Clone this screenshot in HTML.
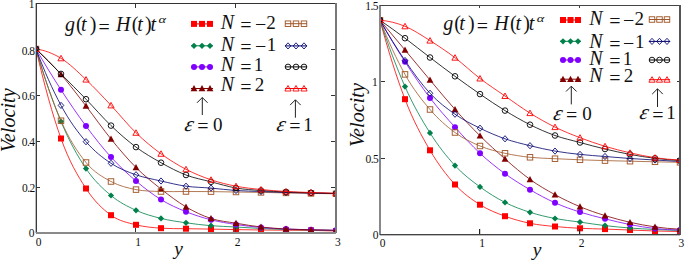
<!DOCTYPE html>
<html><head><meta charset="utf-8"><style>
html,body{margin:0;padding:0;background:#fff;width:685px;height:260px;overflow:hidden}
svg{display:block}
text{font-family:"Liberation Serif",serif;fill:#111}
</style></head><body>
<svg width="685" height="260" viewBox="0 0 685 260">
<defs><clipPath id="cl"><rect x="36" y="3" width="300" height="230"/></clipPath><clipPath id="cr"><rect x="380" y="5" width="300" height="229"/></clipPath></defs>
<g clip-path="url(#cl)"><path d="M36.00,49.00 C44.33,85.42 52.67,115.25 61.00,138.50 C69.33,161.75 77.67,175.72 86.00,188.50 C94.33,201.28 102.67,209.15 111.00,215.20 C119.33,221.25 127.67,222.63 136.00,224.80 C144.33,226.97 152.67,227.55 161.00,228.20 C169.33,228.85 177.67,228.55 186.00,228.70 C194.33,228.85 202.67,228.95 211.00,229.10 C219.33,229.25 227.67,229.45 236.00,229.60 C244.33,229.75 252.67,229.90 261.00,230.00 C269.33,230.10 277.67,230.13 286.00,230.20 C294.33,230.27 302.67,230.27 311.00,230.40 C319.33,230.53 327.67,230.73 336.00,231.00" fill="none" stroke="#ff0000" stroke-width="0.8"/><rect x="33.00" y="46.00" width="6" height="6" fill="#ff0000"/><rect x="58.00" y="135.50" width="6" height="6" fill="#ff0000"/><rect x="83.00" y="185.50" width="6" height="6" fill="#ff0000"/><rect x="108.00" y="212.20" width="6" height="6" fill="#ff0000"/><rect x="133.00" y="221.80" width="6" height="6" fill="#ff0000"/><rect x="158.00" y="225.20" width="6" height="6" fill="#ff0000"/><rect x="183.00" y="225.70" width="6" height="6" fill="#ff0000"/><rect x="208.00" y="226.10" width="6" height="6" fill="#ff0000"/><rect x="233.00" y="226.60" width="6" height="6" fill="#ff0000"/><rect x="258.00" y="227.00" width="6" height="6" fill="#ff0000"/><rect x="283.00" y="227.20" width="6" height="6" fill="#ff0000"/><rect x="308.00" y="227.40" width="6" height="6" fill="#ff0000"/><rect x="333.00" y="228.00" width="6" height="6" fill="#ff0000"/><path d="M36.00,49.00 C44.33,77.40 52.67,101.57 61.00,121.50 C69.33,141.43 77.67,156.27 86.00,168.60 C94.33,180.93 102.67,188.55 111.00,195.50 C119.33,202.45 127.67,206.48 136.00,210.30 C144.33,214.12 152.67,216.32 161.00,218.40 C169.33,220.48 177.67,221.58 186.00,222.80 C194.33,224.02 202.67,225.00 211.00,225.70 C219.33,226.40 227.67,226.53 236.00,227.00 C244.33,227.47 252.67,228.08 261.00,228.50 C269.33,228.92 277.67,229.25 286.00,229.50 C294.33,229.75 302.67,229.83 311.00,230.00 C319.33,230.17 327.67,230.33 336.00,230.50" fill="none" stroke="#00804a" stroke-width="0.8"/><polygon points="36.00,45.90 39.10,49.00 36.00,52.10 32.90,49.00" fill="#00804a"/><polygon points="61.00,118.40 64.10,121.50 61.00,124.60 57.90,121.50" fill="#00804a"/><polygon points="86.00,165.50 89.10,168.60 86.00,171.70 82.90,168.60" fill="#00804a"/><polygon points="111.00,192.40 114.10,195.50 111.00,198.60 107.90,195.50" fill="#00804a"/><polygon points="136.00,207.20 139.10,210.30 136.00,213.40 132.90,210.30" fill="#00804a"/><polygon points="161.00,215.30 164.10,218.40 161.00,221.50 157.90,218.40" fill="#00804a"/><polygon points="186.00,219.70 189.10,222.80 186.00,225.90 182.90,222.80" fill="#00804a"/><polygon points="211.00,222.60 214.10,225.70 211.00,228.80 207.90,225.70" fill="#00804a"/><polygon points="236.00,223.90 239.10,227.00 236.00,230.10 232.90,227.00" fill="#00804a"/><polygon points="261.00,225.40 264.10,228.50 261.00,231.60 257.90,228.50" fill="#00804a"/><polygon points="286.00,226.40 289.10,229.50 286.00,232.60 282.90,229.50" fill="#00804a"/><polygon points="311.00,226.90 314.10,230.00 311.00,233.10 307.90,230.00" fill="#00804a"/><polygon points="336.00,227.40 339.10,230.50 336.00,233.60 332.90,230.50" fill="#00804a"/><path d="M36.00,49.00 C44.33,63.35 52.67,76.95 61.00,89.80 C69.33,102.65 77.67,114.88 86.00,126.10 C94.33,137.32 102.67,147.95 111.00,157.10 C119.33,166.25 127.67,173.92 136.00,181.00 C144.33,188.08 152.67,194.48 161.00,199.60 C169.33,204.72 177.67,208.33 186.00,211.70 C194.33,215.07 202.67,217.67 211.00,219.80 C219.33,221.93 227.67,223.22 236.00,224.50 C244.33,225.78 252.67,226.75 261.00,227.50 C269.33,228.25 277.67,228.62 286.00,229.00 C294.33,229.38 302.67,229.58 311.00,229.80 C319.33,230.02 327.67,230.18 336.00,230.30" fill="none" stroke="#8000ff" stroke-width="0.8"/><circle cx="36.00" cy="49.00" r="3.0" fill="#8000ff"/><circle cx="61.00" cy="89.80" r="3.0" fill="#8000ff"/><circle cx="86.00" cy="126.10" r="3.0" fill="#8000ff"/><circle cx="111.00" cy="157.10" r="3.0" fill="#8000ff"/><circle cx="136.00" cy="181.00" r="3.0" fill="#8000ff"/><circle cx="161.00" cy="199.60" r="3.0" fill="#8000ff"/><circle cx="186.00" cy="211.70" r="3.0" fill="#8000ff"/><circle cx="211.00" cy="219.80" r="3.0" fill="#8000ff"/><circle cx="236.00" cy="224.50" r="3.0" fill="#8000ff"/><circle cx="261.00" cy="227.50" r="3.0" fill="#8000ff"/><circle cx="286.00" cy="229.00" r="3.0" fill="#8000ff"/><circle cx="311.00" cy="229.80" r="3.0" fill="#8000ff"/><circle cx="336.00" cy="230.30" r="3.0" fill="#8000ff"/><path d="M36.00,49.00 C44.33,56.50 52.67,65.00 61.00,74.50 C69.33,84.00 77.67,95.25 86.00,106.00 C94.33,116.75 102.67,128.75 111.00,139.00 C119.33,149.25 127.67,159.17 136.00,167.50 C144.33,175.83 152.67,182.43 161.00,189.00 C169.33,195.57 177.67,201.98 186.00,206.90 C194.33,211.82 202.67,215.78 211.00,218.50 C219.33,221.22 227.67,221.78 236.00,223.20 C244.33,224.62 252.67,226.03 261.00,227.00 C269.33,227.97 277.67,228.53 286.00,229.00 C294.33,229.47 302.67,229.58 311.00,229.80 C319.33,230.02 327.67,230.18 336.00,230.30" fill="none" stroke="#800000" stroke-width="0.8"/><polygon points="36.00,45.60 39.40,51.80 32.60,51.80" fill="#800000"/><polygon points="61.00,71.10 64.40,77.30 57.60,77.30" fill="#800000"/><polygon points="86.00,102.60 89.40,108.80 82.60,108.80" fill="#800000"/><polygon points="111.00,135.60 114.40,141.80 107.60,141.80" fill="#800000"/><polygon points="136.00,164.10 139.40,170.30 132.60,170.30" fill="#800000"/><polygon points="161.00,185.60 164.40,191.80 157.60,191.80" fill="#800000"/><polygon points="186.00,203.50 189.40,209.70 182.60,209.70" fill="#800000"/><polygon points="211.00,215.10 214.40,221.30 207.60,221.30" fill="#800000"/><polygon points="236.00,219.80 239.40,226.00 232.60,226.00" fill="#800000"/><polygon points="261.00,223.60 264.40,229.80 257.60,229.80" fill="#800000"/><polygon points="286.00,225.60 289.40,231.80 282.60,231.80" fill="#800000"/><polygon points="311.00,226.40 314.40,232.60 307.60,232.60" fill="#800000"/><polygon points="336.00,226.90 339.40,233.10 332.60,233.10" fill="#800000"/><path d="M36.00,49.00 C44.33,77.88 52.67,101.78 61.00,120.70 C69.33,139.62 77.67,152.37 86.00,162.50 C94.33,172.63 102.67,176.98 111.00,181.50 C119.33,186.02 127.67,187.93 136.00,189.60 C144.33,191.27 152.67,191.18 161.00,191.50 C169.33,191.82 177.67,191.48 186.00,191.50 C194.33,191.52 202.67,191.52 211.00,191.60 C219.33,191.68 227.67,191.87 236.00,192.00 C244.33,192.13 252.67,192.25 261.00,192.40 C269.33,192.55 277.67,192.73 286.00,192.90 C294.33,193.07 302.67,193.25 311.00,193.40 C319.33,193.55 327.67,193.68 336.00,193.80" fill="none" stroke="#a0582a" stroke-width="0.8"/><rect x="33.25" y="46.25" width="5.5" height="5.5" fill="none" stroke="#a0582a" stroke-width="0.95"/><rect x="58.25" y="117.95" width="5.5" height="5.5" fill="none" stroke="#a0582a" stroke-width="0.95"/><rect x="83.25" y="159.75" width="5.5" height="5.5" fill="none" stroke="#a0582a" stroke-width="0.95"/><rect x="108.25" y="178.75" width="5.5" height="5.5" fill="none" stroke="#a0582a" stroke-width="0.95"/><rect x="133.25" y="186.85" width="5.5" height="5.5" fill="none" stroke="#a0582a" stroke-width="0.95"/><rect x="158.25" y="188.75" width="5.5" height="5.5" fill="none" stroke="#a0582a" stroke-width="0.95"/><rect x="183.25" y="188.75" width="5.5" height="5.5" fill="none" stroke="#a0582a" stroke-width="0.95"/><rect x="208.25" y="188.85" width="5.5" height="5.5" fill="none" stroke="#a0582a" stroke-width="0.95"/><rect x="233.25" y="189.25" width="5.5" height="5.5" fill="none" stroke="#a0582a" stroke-width="0.95"/><rect x="258.25" y="189.65" width="5.5" height="5.5" fill="none" stroke="#a0582a" stroke-width="0.95"/><rect x="283.25" y="190.15" width="5.5" height="5.5" fill="none" stroke="#a0582a" stroke-width="0.95"/><rect x="308.25" y="190.65" width="5.5" height="5.5" fill="none" stroke="#a0582a" stroke-width="0.95"/><rect x="333.25" y="191.05" width="5.5" height="5.5" fill="none" stroke="#a0582a" stroke-width="0.95"/><path d="M36.00,49.00 C44.33,71.15 52.67,89.95 61.00,105.40 C69.33,120.85 77.67,132.05 86.00,141.70 C94.33,151.35 102.67,157.78 111.00,163.30 C119.33,168.82 127.67,171.85 136.00,174.80 C144.33,177.75 152.67,179.10 161.00,181.00 C169.33,182.90 177.67,185.02 186.00,186.20 C194.33,187.38 202.67,187.38 211.00,188.10 C219.33,188.82 227.67,189.93 236.00,190.50 C244.33,191.07 252.67,191.17 261.00,191.50 C269.33,191.83 277.67,192.25 286.00,192.50 C294.33,192.75 302.67,192.82 311.00,193.00 C319.33,193.18 327.67,193.38 336.00,193.60" fill="none" stroke="#000070" stroke-width="0.8"/><polygon points="36.00,45.90 38.80,49.00 36.00,52.10 33.20,49.00" fill="none" stroke="#000070" stroke-width="0.85"/><polygon points="61.00,102.30 63.80,105.40 61.00,108.50 58.20,105.40" fill="none" stroke="#000070" stroke-width="0.85"/><polygon points="86.00,138.60 88.80,141.70 86.00,144.80 83.20,141.70" fill="none" stroke="#000070" stroke-width="0.85"/><polygon points="111.00,160.20 113.80,163.30 111.00,166.40 108.20,163.30" fill="none" stroke="#000070" stroke-width="0.85"/><polygon points="136.00,171.70 138.80,174.80 136.00,177.90 133.20,174.80" fill="none" stroke="#000070" stroke-width="0.85"/><polygon points="161.00,177.90 163.80,181.00 161.00,184.10 158.20,181.00" fill="none" stroke="#000070" stroke-width="0.85"/><polygon points="186.00,183.10 188.80,186.20 186.00,189.30 183.20,186.20" fill="none" stroke="#000070" stroke-width="0.85"/><polygon points="211.00,185.00 213.80,188.10 211.00,191.20 208.20,188.10" fill="none" stroke="#000070" stroke-width="0.85"/><polygon points="236.00,187.40 238.80,190.50 236.00,193.60 233.20,190.50" fill="none" stroke="#000070" stroke-width="0.85"/><polygon points="261.00,188.40 263.80,191.50 261.00,194.60 258.20,191.50" fill="none" stroke="#000070" stroke-width="0.85"/><polygon points="286.00,189.40 288.80,192.50 286.00,195.60 283.20,192.50" fill="none" stroke="#000070" stroke-width="0.85"/><polygon points="311.00,189.90 313.80,193.00 311.00,196.10 308.20,193.00" fill="none" stroke="#000070" stroke-width="0.85"/><polygon points="336.00,190.50 338.80,193.60 336.00,196.70 333.20,193.60" fill="none" stroke="#000070" stroke-width="0.85"/><path d="M36.00,49.00 C44.33,57.23 52.67,65.53 61.00,73.90 C69.33,82.27 77.67,90.58 86.00,99.20 C94.33,107.82 102.67,117.62 111.00,125.60 C119.33,133.58 127.67,140.92 136.00,147.10 C144.33,153.28 152.67,158.05 161.00,162.70 C169.33,167.35 177.67,171.82 186.00,175.00 C194.33,178.18 202.67,179.63 211.00,181.80 C219.33,183.97 227.67,186.55 236.00,188.00 C244.33,189.45 252.67,189.83 261.00,190.50 C269.33,191.17 277.67,191.62 286.00,192.00 C294.33,192.38 302.67,192.55 311.00,192.80 C319.33,193.05 327.67,193.28 336.00,193.50" fill="none" stroke="#000000" stroke-width="0.8"/><circle cx="36.00" cy="49.00" r="2.8" fill="none" stroke="#000000" stroke-width="0.9"/><circle cx="61.00" cy="73.90" r="2.8" fill="none" stroke="#000000" stroke-width="0.9"/><circle cx="86.00" cy="99.20" r="2.8" fill="none" stroke="#000000" stroke-width="0.9"/><circle cx="111.00" cy="125.60" r="2.8" fill="none" stroke="#000000" stroke-width="0.9"/><circle cx="136.00" cy="147.10" r="2.8" fill="none" stroke="#000000" stroke-width="0.9"/><circle cx="161.00" cy="162.70" r="2.8" fill="none" stroke="#000000" stroke-width="0.9"/><circle cx="186.00" cy="175.00" r="2.8" fill="none" stroke="#000000" stroke-width="0.9"/><circle cx="211.00" cy="181.80" r="2.8" fill="none" stroke="#000000" stroke-width="0.9"/><circle cx="236.00" cy="188.00" r="2.8" fill="none" stroke="#000000" stroke-width="0.9"/><circle cx="261.00" cy="190.50" r="2.8" fill="none" stroke="#000000" stroke-width="0.9"/><circle cx="286.00" cy="192.00" r="2.8" fill="none" stroke="#000000" stroke-width="0.9"/><circle cx="311.00" cy="192.80" r="2.8" fill="none" stroke="#000000" stroke-width="0.9"/><circle cx="336.00" cy="193.50" r="2.8" fill="none" stroke="#000000" stroke-width="0.9"/><path d="M36.00,49.00 C44.33,50.10 52.67,53.20 61.00,58.30 C69.33,63.40 77.67,71.75 86.00,79.60 C94.33,87.45 102.67,96.53 111.00,105.40 C119.33,114.27 127.67,124.73 136.00,132.80 C144.33,140.87 152.67,147.72 161.00,153.80 C169.33,159.88 177.67,164.97 186.00,169.30 C194.33,173.63 202.67,176.98 211.00,179.80 C219.33,182.62 227.67,184.58 236.00,186.20 C244.33,187.82 252.67,188.62 261.00,189.50 C269.33,190.38 277.67,191.00 286.00,191.50 C294.33,192.00 302.67,192.22 311.00,192.50 C319.33,192.78 327.67,193.02 336.00,193.20" fill="none" stroke="#ff0000" stroke-width="0.8"/><polygon points="36.00,46.00 39.10,51.50 32.90,51.50" fill="none" stroke="#ff0000" stroke-width="0.9"/><polygon points="61.00,55.30 64.10,60.80 57.90,60.80" fill="none" stroke="#ff0000" stroke-width="0.9"/><polygon points="86.00,76.60 89.10,82.10 82.90,82.10" fill="none" stroke="#ff0000" stroke-width="0.9"/><polygon points="111.00,102.40 114.10,107.90 107.90,107.90" fill="none" stroke="#ff0000" stroke-width="0.9"/><polygon points="136.00,129.80 139.10,135.30 132.90,135.30" fill="none" stroke="#ff0000" stroke-width="0.9"/><polygon points="161.00,150.80 164.10,156.30 157.90,156.30" fill="none" stroke="#ff0000" stroke-width="0.9"/><polygon points="186.00,166.30 189.10,171.80 182.90,171.80" fill="none" stroke="#ff0000" stroke-width="0.9"/><polygon points="211.00,176.80 214.10,182.30 207.90,182.30" fill="none" stroke="#ff0000" stroke-width="0.9"/><polygon points="236.00,183.20 239.10,188.70 232.90,188.70" fill="none" stroke="#ff0000" stroke-width="0.9"/><polygon points="261.00,186.50 264.10,192.00 257.90,192.00" fill="none" stroke="#ff0000" stroke-width="0.9"/><polygon points="286.00,188.50 289.10,194.00 282.90,194.00" fill="none" stroke="#ff0000" stroke-width="0.9"/><polygon points="311.00,189.50 314.10,195.00 307.90,195.00" fill="none" stroke="#ff0000" stroke-width="0.9"/><polygon points="336.00,190.20 339.10,195.70 332.90,195.70" fill="none" stroke="#ff0000" stroke-width="0.9"/></g>
<rect x="35" y="3" width="1" height="230" fill="#bbb"/><rect x="36" y="3" width="1" height="230" fill="#3a3a3a"/>
<rect x="36" y="3" width="300" height="1" fill="#333"/>
<rect x="335" y="3" width="2" height="230" fill="#777"/>
<rect x="36" y="232" width="300" height="2" fill="#8a8a8a"/>
<rect x="37" y="187" width="3" height="1" fill="#333"/>
<rect x="331" y="187" width="4" height="1" fill="#333"/>
<rect x="37" y="141" width="3" height="1" fill="#333"/>
<rect x="331" y="141" width="4" height="1" fill="#333"/>
<rect x="37" y="95" width="3" height="1" fill="#333"/>
<rect x="331" y="95" width="4" height="1" fill="#333"/>
<rect x="37" y="49" width="3" height="1" fill="#333"/>
<rect x="331" y="49" width="4" height="1" fill="#333"/>
<rect x="135" y="228" width="1" height="4" fill="#333"/>
<rect x="135" y="4" width="1" height="4" fill="#333"/>
<rect x="235" y="228" width="1" height="4" fill="#333"/>
<rect x="235" y="4" width="1" height="4" fill="#333"/>
<text x="28.64" y="7.80" style="font-size:11.5px;letter-spacing:-0.6px">1</text>
<text x="21.76" y="55.00" style="font-size:11.5px;letter-spacing:-0.6px">0.8</text>
<text x="21.77" y="99.80" style="font-size:11.5px;letter-spacing:-0.6px">0.6</text>
<text x="21.80" y="146.30" style="font-size:11.5px;letter-spacing:-0.6px">0.4</text>
<text x="22.06" y="192.00" style="font-size:11.5px;letter-spacing:-0.6px">0.2</text>
<text x="28.69" y="237.00" style="font-size:11.5px;letter-spacing:-0.6px">0</text>
<text x="35.86" y="245.50" style="font-size:11.5px;">0</text>
<text x="135.19" y="245.50" style="font-size:11.5px;">1</text>
<text x="234.79" y="245.50" style="font-size:11.5px;">2</text>
<text x="334.95" y="245.50" style="font-size:11.5px;">3</text>
<text x="174.23" y="254.50" style="font-size:19.5px;font-style:italic;">y</text>
<text transform="translate(14.63,152.22) rotate(-90)" style="font-size:20.2px;font-style:italic">Velocity</text>
<text x="64.99" y="31.00" style="font-size:20px;font-style:italic;">g</text><text x="76.12" y="31.00" style="font-size:20px;">(</text><text x="81.12" y="31.00" style="font-size:20px;font-style:italic;">t</text><text x="89.86" y="31.00" style="font-size:20px;">)</text><text x="98.50" y="33.60" style="font-size:20px;">=</text><text x="116.11" y="31.00" style="font-size:20px;font-style:italic;">H</text><text x="131.72" y="31.00" style="font-size:20px;">(</text><text x="137.32" y="31.00" style="font-size:20px;font-style:italic;">t</text><text x="144.96" y="31.00" style="font-size:20px;">)</text><text x="150.62" y="31.00" style="font-size:20px;font-style:italic;">t</text><text transform="translate(158.60,23.40) scale(1.3,0.9)" style="font-size:11px;font-style:italic">α</text>
<line x1="191.0" y1="23.90" x2="213.0" y2="23.90" stroke="#ff0000" stroke-width="1"/><rect x="191.00" y="20.90" width="6" height="6" fill="#ff0000"/><rect x="199.00" y="20.90" width="6" height="6" fill="#ff0000"/><rect x="207.00" y="20.90" width="6" height="6" fill="#ff0000"/><line x1="285.0" y1="23.70" x2="307.0" y2="23.70" stroke="#a0582a" stroke-width="1"/><rect x="285.25" y="20.95" width="5.5" height="5.5" fill="none" stroke="#a0582a" stroke-width="0.95"/><rect x="293.25" y="20.95" width="5.5" height="5.5" fill="none" stroke="#a0582a" stroke-width="0.95"/><rect x="301.25" y="20.95" width="5.5" height="5.5" fill="none" stroke="#a0582a" stroke-width="0.95"/><line x1="191.0" y1="45.80" x2="213.0" y2="45.80" stroke="#00804a" stroke-width="1"/><polygon points="194.00,42.70 197.10,45.80 194.00,48.90 190.90,45.80" fill="#00804a"/><polygon points="202.00,42.70 205.10,45.80 202.00,48.90 198.90,45.80" fill="#00804a"/><polygon points="210.00,42.70 213.10,45.80 210.00,48.90 206.90,45.80" fill="#00804a"/><line x1="285.0" y1="45.90" x2="307.0" y2="45.90" stroke="#000070" stroke-width="1"/><polygon points="288.00,42.80 290.80,45.90 288.00,49.00 285.20,45.90" fill="none" stroke="#000070" stroke-width="0.85"/><polygon points="296.00,42.80 298.80,45.90 296.00,49.00 293.20,45.90" fill="none" stroke="#000070" stroke-width="0.85"/><polygon points="304.00,42.80 306.80,45.90 304.00,49.00 301.20,45.90" fill="none" stroke="#000070" stroke-width="0.85"/><line x1="191.0" y1="66.90" x2="213.0" y2="66.90" stroke="#8000ff" stroke-width="1"/><circle cx="194.00" cy="66.90" r="3.0" fill="#8000ff"/><circle cx="202.00" cy="66.90" r="3.0" fill="#8000ff"/><circle cx="210.00" cy="66.90" r="3.0" fill="#8000ff"/><line x1="285.0" y1="66.90" x2="307.0" y2="66.90" stroke="#000000" stroke-width="1"/><circle cx="288.00" cy="66.90" r="2.8" fill="none" stroke="#000000" stroke-width="0.9"/><circle cx="296.00" cy="66.90" r="2.8" fill="none" stroke="#000000" stroke-width="0.9"/><circle cx="304.00" cy="66.90" r="2.8" fill="none" stroke="#000000" stroke-width="0.9"/><line x1="191.0" y1="88.50" x2="213.0" y2="88.50" stroke="#800000" stroke-width="1"/><polygon points="194.00,85.10 197.40,91.30 190.60,91.30" fill="#800000"/><polygon points="202.00,85.10 205.40,91.30 198.60,91.30" fill="#800000"/><polygon points="210.00,85.10 213.40,91.30 206.60,91.30" fill="#800000"/><line x1="285.0" y1="88.50" x2="307.0" y2="88.50" stroke="#ff0000" stroke-width="1"/><polygon points="288.00,85.50 291.10,91.00 284.90,91.00" fill="none" stroke="#ff0000" stroke-width="0.9"/><polygon points="296.00,85.50 299.10,91.00 292.90,91.00" fill="none" stroke="#ff0000" stroke-width="0.9"/><polygon points="304.00,85.50 307.10,91.00 300.90,91.00" fill="none" stroke="#ff0000" stroke-width="0.9"/>
<text x="220.65" y="28.60" style="font-size:20px;font-style:italic;">N</text><text x="240.20" y="31.60" style="font-size:20px;">=</text><text x="254.90" y="30.70" style="font-size:20px;">−</text><text x="266.17" y="28.60" style="font-size:19px;">2</text><text x="220.65" y="50.60" style="font-size:20px;font-style:italic;">N</text><text x="240.20" y="53.60" style="font-size:20px;">=</text><text x="254.90" y="52.70" style="font-size:20px;">−</text><text x="266.63" y="50.60" style="font-size:19px;">1</text><text x="220.65" y="70.60" style="font-size:20px;font-style:italic;">N</text><text x="240.20" y="73.60" style="font-size:20px;">=</text><text x="253.83" y="70.60" style="font-size:19px;">1</text><text x="220.65" y="91.10" style="font-size:20px;font-style:italic;">N</text><text x="240.20" y="94.10" style="font-size:20px;">=</text><text x="254.67" y="91.10" style="font-size:19px;">2</text>
<line x1="202.30" y1="97.6" x2="202.30" y2="115.0" stroke="#222" stroke-width="1"/><polyline points="197.00,102.8 202.30,97.5 207.60,102.8" fill="none" stroke="#222" stroke-width="1"/>
<line x1="295.40" y1="99.9" x2="295.40" y2="117.7" stroke="#222" stroke-width="1"/><polyline points="290.10,105.1 295.40,99.8 300.70,105.1" fill="none" stroke="#222" stroke-width="1"/>
<text transform="translate(183.70,130.80) skewX(-14)" style="font-size:21px;font-style:italic">ε</text><text x="197.20" y="133.40" style="font-size:20px;">=</text><text x="213.08" y="130.80" style="font-size:19px;">0</text>
<text transform="translate(275.70,130.80) skewX(-14)" style="font-size:21px;font-style:italic">ε</text><text x="289.20" y="133.40" style="font-size:20px;">=</text><text x="303.33" y="130.80" style="font-size:19px;">1</text>
<g clip-path="url(#cr)"><path d="M380.00,20.20 C388.33,51.18 396.67,77.52 405.00,99.20 C413.33,120.88 421.67,136.08 430.00,150.30 C438.33,164.52 446.67,175.43 455.00,184.50 C463.33,193.57 471.67,199.42 480.00,204.70 C488.33,209.98 496.67,213.10 505.00,216.20 C513.33,219.30 521.67,221.58 530.00,223.30 C538.33,225.02 546.67,225.67 555.00,226.50 C563.33,227.33 571.67,227.87 580.00,228.30 C588.33,228.73 596.67,228.82 605.00,229.10 C613.33,229.38 621.67,229.68 630.00,230.00 C638.33,230.32 646.67,230.75 655.00,231.00 C663.33,231.25 671.67,231.42 680.00,231.50" fill="none" stroke="#ff0000" stroke-width="0.8"/><rect x="377.00" y="17.20" width="6" height="6" fill="#ff0000"/><rect x="402.00" y="96.20" width="6" height="6" fill="#ff0000"/><rect x="427.00" y="147.30" width="6" height="6" fill="#ff0000"/><rect x="452.00" y="181.50" width="6" height="6" fill="#ff0000"/><rect x="477.00" y="201.70" width="6" height="6" fill="#ff0000"/><rect x="502.00" y="213.20" width="6" height="6" fill="#ff0000"/><rect x="527.00" y="220.30" width="6" height="6" fill="#ff0000"/><rect x="552.00" y="223.50" width="6" height="6" fill="#ff0000"/><rect x="577.00" y="225.30" width="6" height="6" fill="#ff0000"/><rect x="602.00" y="226.10" width="6" height="6" fill="#ff0000"/><rect x="627.00" y="227.00" width="6" height="6" fill="#ff0000"/><rect x="652.00" y="228.00" width="6" height="6" fill="#ff0000"/><rect x="677.00" y="228.50" width="6" height="6" fill="#ff0000"/><path d="M380.00,20.20 C388.33,45.68 396.67,67.82 405.00,86.60 C413.33,105.38 421.67,119.73 430.00,132.90 C438.33,146.07 446.67,156.60 455.00,165.60 C463.33,174.60 471.67,180.77 480.00,186.90 C488.33,193.03 496.67,198.17 505.00,202.40 C513.33,206.63 521.67,209.62 530.00,212.30 C538.33,214.98 546.67,216.87 555.00,218.50 C563.33,220.13 571.67,220.92 580.00,222.10 C588.33,223.28 596.67,224.62 605.00,225.60 C613.33,226.58 621.67,227.35 630.00,228.00 C638.33,228.65 646.67,229.08 655.00,229.50 C663.33,229.92 671.67,230.25 680.00,230.50" fill="none" stroke="#00804a" stroke-width="0.8"/><polygon points="380.00,17.10 383.10,20.20 380.00,23.30 376.90,20.20" fill="#00804a"/><polygon points="405.00,83.50 408.10,86.60 405.00,89.70 401.90,86.60" fill="#00804a"/><polygon points="430.00,129.80 433.10,132.90 430.00,136.00 426.90,132.90" fill="#00804a"/><polygon points="455.00,162.50 458.10,165.60 455.00,168.70 451.90,165.60" fill="#00804a"/><polygon points="480.00,183.80 483.10,186.90 480.00,190.00 476.90,186.90" fill="#00804a"/><polygon points="505.00,199.30 508.10,202.40 505.00,205.50 501.90,202.40" fill="#00804a"/><polygon points="530.00,209.20 533.10,212.30 530.00,215.40 526.90,212.30" fill="#00804a"/><polygon points="555.00,215.40 558.10,218.50 555.00,221.60 551.90,218.50" fill="#00804a"/><polygon points="580.00,219.00 583.10,222.10 580.00,225.20 576.90,222.10" fill="#00804a"/><polygon points="605.00,222.50 608.10,225.60 605.00,228.70 601.90,225.60" fill="#00804a"/><polygon points="630.00,224.90 633.10,228.00 630.00,231.10 626.90,228.00" fill="#00804a"/><polygon points="655.00,226.40 658.10,229.50 655.00,232.60 651.90,229.50" fill="#00804a"/><polygon points="680.00,227.40 683.10,230.50 680.00,233.60 676.90,230.50" fill="#00804a"/><path d="M380.00,20.20 C388.33,34.98 396.67,48.85 405.00,61.80 C413.33,74.75 421.67,87.00 430.00,97.90 C438.33,108.80 446.67,117.97 455.00,127.20 C463.33,136.43 471.67,145.55 480.00,153.30 C488.33,161.05 496.67,167.63 505.00,173.70 C513.33,179.77 521.67,184.85 530.00,189.70 C538.33,194.55 546.67,199.07 555.00,202.80 C563.33,206.53 571.67,209.43 580.00,212.10 C588.33,214.77 596.67,216.72 605.00,218.80 C613.33,220.88 621.67,222.98 630.00,224.60 C638.33,226.22 646.67,227.60 655.00,228.50 C663.33,229.40 671.67,229.90 680.00,230.00" fill="none" stroke="#8000ff" stroke-width="0.8"/><circle cx="380.00" cy="20.20" r="3.0" fill="#8000ff"/><circle cx="405.00" cy="61.80" r="3.0" fill="#8000ff"/><circle cx="430.00" cy="97.90" r="3.0" fill="#8000ff"/><circle cx="455.00" cy="127.20" r="3.0" fill="#8000ff"/><circle cx="480.00" cy="153.30" r="3.0" fill="#8000ff"/><circle cx="505.00" cy="173.70" r="3.0" fill="#8000ff"/><circle cx="530.00" cy="189.70" r="3.0" fill="#8000ff"/><circle cx="555.00" cy="202.80" r="3.0" fill="#8000ff"/><circle cx="580.00" cy="212.10" r="3.0" fill="#8000ff"/><circle cx="605.00" cy="218.80" r="3.0" fill="#8000ff"/><circle cx="630.00" cy="224.60" r="3.0" fill="#8000ff"/><circle cx="655.00" cy="228.50" r="3.0" fill="#8000ff"/><circle cx="680.00" cy="230.00" r="3.0" fill="#8000ff"/><path d="M380.00,20.20 C388.33,30.10 396.67,40.03 405.00,50.00 C413.33,59.97 421.67,70.10 430.00,80.00 C438.33,89.90 446.67,100.10 455.00,109.40 C463.33,118.70 471.67,127.55 480.00,135.80 C488.33,144.05 496.67,151.63 505.00,158.90 C513.33,166.17 521.67,173.43 530.00,179.40 C538.33,185.37 546.67,190.15 555.00,194.70 C563.33,199.25 571.67,203.22 580.00,206.70 C588.33,210.18 596.67,213.00 605.00,215.60 C613.33,218.20 621.67,220.42 630.00,222.30 C638.33,224.18 646.67,225.75 655.00,226.90 C663.33,228.05 671.67,228.82 680.00,229.20" fill="none" stroke="#800000" stroke-width="0.8"/><polygon points="380.00,16.80 383.40,23.00 376.60,23.00" fill="#800000"/><polygon points="405.00,46.60 408.40,52.80 401.60,52.80" fill="#800000"/><polygon points="430.00,76.60 433.40,82.80 426.60,82.80" fill="#800000"/><polygon points="455.00,106.00 458.40,112.20 451.60,112.20" fill="#800000"/><polygon points="480.00,132.40 483.40,138.60 476.60,138.60" fill="#800000"/><polygon points="505.00,155.50 508.40,161.70 501.60,161.70" fill="#800000"/><polygon points="530.00,176.00 533.40,182.20 526.60,182.20" fill="#800000"/><polygon points="555.00,191.30 558.40,197.50 551.60,197.50" fill="#800000"/><polygon points="580.00,203.30 583.40,209.50 576.60,209.50" fill="#800000"/><polygon points="605.00,212.20 608.40,218.40 601.60,218.40" fill="#800000"/><polygon points="630.00,218.90 633.40,225.10 626.60,225.10" fill="#800000"/><polygon points="655.00,223.50 658.40,229.70 651.60,229.70" fill="#800000"/><polygon points="680.00,225.80 683.40,232.00 676.60,232.00" fill="#800000"/><path d="M380.00,20.20 C388.33,41.45 396.67,59.52 405.00,74.40 C413.33,89.28 421.67,99.82 430.00,109.50 C438.33,119.18 446.67,126.42 455.00,132.50 C463.33,138.58 471.67,142.53 480.00,146.00 C488.33,149.47 496.67,151.42 505.00,153.30 C513.33,155.18 521.67,156.40 530.00,157.30 C538.33,158.20 546.67,158.28 555.00,158.70 C563.33,159.12 571.67,159.48 580.00,159.80 C588.33,160.12 596.67,160.37 605.00,160.60 C613.33,160.83 621.67,161.00 630.00,161.20 C638.33,161.40 646.67,161.62 655.00,161.80 C663.33,161.98 671.67,162.15 680.00,162.30" fill="none" stroke="#a0582a" stroke-width="0.8"/><rect x="377.25" y="17.45" width="5.5" height="5.5" fill="none" stroke="#a0582a" stroke-width="0.95"/><rect x="402.25" y="71.65" width="5.5" height="5.5" fill="none" stroke="#a0582a" stroke-width="0.95"/><rect x="427.25" y="106.75" width="5.5" height="5.5" fill="none" stroke="#a0582a" stroke-width="0.95"/><rect x="452.25" y="129.75" width="5.5" height="5.5" fill="none" stroke="#a0582a" stroke-width="0.95"/><rect x="477.25" y="143.25" width="5.5" height="5.5" fill="none" stroke="#a0582a" stroke-width="0.95"/><rect x="502.25" y="150.55" width="5.5" height="5.5" fill="none" stroke="#a0582a" stroke-width="0.95"/><rect x="527.25" y="154.55" width="5.5" height="5.5" fill="none" stroke="#a0582a" stroke-width="0.95"/><rect x="552.25" y="155.95" width="5.5" height="5.5" fill="none" stroke="#a0582a" stroke-width="0.95"/><rect x="577.25" y="157.05" width="5.5" height="5.5" fill="none" stroke="#a0582a" stroke-width="0.95"/><rect x="602.25" y="157.85" width="5.5" height="5.5" fill="none" stroke="#a0582a" stroke-width="0.95"/><rect x="627.25" y="158.45" width="5.5" height="5.5" fill="none" stroke="#a0582a" stroke-width="0.95"/><rect x="652.25" y="159.05" width="5.5" height="5.5" fill="none" stroke="#a0582a" stroke-width="0.95"/><rect x="677.25" y="159.55" width="5.5" height="5.5" fill="none" stroke="#a0582a" stroke-width="0.95"/><path d="M380.00,20.20 C388.33,34.88 396.67,48.32 405.00,60.50 C413.33,72.68 421.67,84.35 430.00,93.30 C438.33,102.25 446.67,108.38 455.00,114.20 C463.33,120.02 471.67,124.10 480.00,128.20 C488.33,132.30 496.67,135.88 505.00,138.80 C513.33,141.72 521.67,143.65 530.00,145.70 C538.33,147.75 546.67,149.65 555.00,151.10 C563.33,152.55 571.67,153.50 580.00,154.40 C588.33,155.30 596.67,155.82 605.00,156.50 C613.33,157.18 621.67,157.92 630.00,158.50 C638.33,159.08 646.67,159.50 655.00,160.00 C663.33,160.50 671.67,161.00 680.00,161.50" fill="none" stroke="#000070" stroke-width="0.8"/><polygon points="380.00,17.10 382.80,20.20 380.00,23.30 377.20,20.20" fill="none" stroke="#000070" stroke-width="0.85"/><polygon points="405.00,57.40 407.80,60.50 405.00,63.60 402.20,60.50" fill="none" stroke="#000070" stroke-width="0.85"/><polygon points="430.00,90.20 432.80,93.30 430.00,96.40 427.20,93.30" fill="none" stroke="#000070" stroke-width="0.85"/><polygon points="455.00,111.10 457.80,114.20 455.00,117.30 452.20,114.20" fill="none" stroke="#000070" stroke-width="0.85"/><polygon points="480.00,125.10 482.80,128.20 480.00,131.30 477.20,128.20" fill="none" stroke="#000070" stroke-width="0.85"/><polygon points="505.00,135.70 507.80,138.80 505.00,141.90 502.20,138.80" fill="none" stroke="#000070" stroke-width="0.85"/><polygon points="530.00,142.60 532.80,145.70 530.00,148.80 527.20,145.70" fill="none" stroke="#000070" stroke-width="0.85"/><polygon points="555.00,148.00 557.80,151.10 555.00,154.20 552.20,151.10" fill="none" stroke="#000070" stroke-width="0.85"/><polygon points="580.00,151.30 582.80,154.40 580.00,157.50 577.20,154.40" fill="none" stroke="#000070" stroke-width="0.85"/><polygon points="605.00,153.40 607.80,156.50 605.00,159.60 602.20,156.50" fill="none" stroke="#000070" stroke-width="0.85"/><polygon points="630.00,155.40 632.80,158.50 630.00,161.60 627.20,158.50" fill="none" stroke="#000070" stroke-width="0.85"/><polygon points="655.00,156.90 657.80,160.00 655.00,163.10 652.20,160.00" fill="none" stroke="#000070" stroke-width="0.85"/><polygon points="680.00,158.40 682.80,161.50 680.00,164.60 677.20,161.50" fill="none" stroke="#000070" stroke-width="0.85"/><path d="M380.00,20.20 C388.33,25.98 396.67,31.98 405.00,38.20 C413.33,44.42 421.67,51.15 430.00,57.50 C438.33,63.85 446.67,70.20 455.00,76.30 C463.33,82.40 471.67,88.38 480.00,94.10 C488.33,99.82 496.67,105.50 505.00,110.60 C513.33,115.70 521.67,120.55 530.00,124.70 C538.33,128.85 546.67,132.53 555.00,135.50 C563.33,138.47 571.67,140.25 580.00,142.50 C588.33,144.75 596.67,147.02 605.00,149.00 C613.33,150.98 621.67,152.85 630.00,154.40 C638.33,155.95 646.67,157.28 655.00,158.30 C663.33,159.32 671.67,160.05 680.00,160.50" fill="none" stroke="#000000" stroke-width="0.8"/><circle cx="380.00" cy="20.20" r="2.8" fill="none" stroke="#000000" stroke-width="0.9"/><circle cx="405.00" cy="38.20" r="2.8" fill="none" stroke="#000000" stroke-width="0.9"/><circle cx="430.00" cy="57.50" r="2.8" fill="none" stroke="#000000" stroke-width="0.9"/><circle cx="455.00" cy="76.30" r="2.8" fill="none" stroke="#000000" stroke-width="0.9"/><circle cx="480.00" cy="94.10" r="2.8" fill="none" stroke="#000000" stroke-width="0.9"/><circle cx="505.00" cy="110.60" r="2.8" fill="none" stroke="#000000" stroke-width="0.9"/><circle cx="530.00" cy="124.70" r="2.8" fill="none" stroke="#000000" stroke-width="0.9"/><circle cx="555.00" cy="135.50" r="2.8" fill="none" stroke="#000000" stroke-width="0.9"/><circle cx="580.00" cy="142.50" r="2.8" fill="none" stroke="#000000" stroke-width="0.9"/><circle cx="605.00" cy="149.00" r="2.8" fill="none" stroke="#000000" stroke-width="0.9"/><circle cx="630.00" cy="154.40" r="2.8" fill="none" stroke="#000000" stroke-width="0.9"/><circle cx="655.00" cy="158.30" r="2.8" fill="none" stroke="#000000" stroke-width="0.9"/><circle cx="680.00" cy="160.50" r="2.8" fill="none" stroke="#000000" stroke-width="0.9"/><path d="M380.00,20.20 C388.33,20.87 396.67,22.90 405.00,26.30 C413.33,29.70 421.67,35.37 430.00,40.60 C438.33,45.83 446.67,51.38 455.00,57.70 C463.33,64.02 471.67,72.12 480.00,78.50 C488.33,84.88 496.67,90.23 505.00,96.00 C513.33,101.77 521.67,107.92 530.00,113.10 C538.33,118.28 546.67,123.00 555.00,127.10 C563.33,131.20 571.67,134.50 580.00,137.70 C588.33,140.90 596.67,143.78 605.00,146.30 C613.33,148.82 621.67,150.90 630.00,152.80 C638.33,154.70 646.67,156.50 655.00,157.70 C663.33,158.90 671.67,159.67 680.00,160.00" fill="none" stroke="#ff0000" stroke-width="0.8"/><polygon points="380.00,17.20 383.10,22.70 376.90,22.70" fill="none" stroke="#ff0000" stroke-width="0.9"/><polygon points="405.00,23.30 408.10,28.80 401.90,28.80" fill="none" stroke="#ff0000" stroke-width="0.9"/><polygon points="430.00,37.60 433.10,43.10 426.90,43.10" fill="none" stroke="#ff0000" stroke-width="0.9"/><polygon points="455.00,54.70 458.10,60.20 451.90,60.20" fill="none" stroke="#ff0000" stroke-width="0.9"/><polygon points="480.00,75.50 483.10,81.00 476.90,81.00" fill="none" stroke="#ff0000" stroke-width="0.9"/><polygon points="505.00,93.00 508.10,98.50 501.90,98.50" fill="none" stroke="#ff0000" stroke-width="0.9"/><polygon points="530.00,110.10 533.10,115.60 526.90,115.60" fill="none" stroke="#ff0000" stroke-width="0.9"/><polygon points="555.00,124.10 558.10,129.60 551.90,129.60" fill="none" stroke="#ff0000" stroke-width="0.9"/><polygon points="580.00,134.70 583.10,140.20 576.90,140.20" fill="none" stroke="#ff0000" stroke-width="0.9"/><polygon points="605.00,143.30 608.10,148.80 601.90,148.80" fill="none" stroke="#ff0000" stroke-width="0.9"/><polygon points="630.00,149.80 633.10,155.30 626.90,155.30" fill="none" stroke="#ff0000" stroke-width="0.9"/><polygon points="655.00,154.70 658.10,160.20 651.90,160.20" fill="none" stroke="#ff0000" stroke-width="0.9"/><polygon points="680.00,157.00 683.10,162.50 676.90,162.50" fill="none" stroke="#ff0000" stroke-width="0.9"/></g>
<rect x="379" y="5" width="2" height="230" fill="#888"/>
<rect x="380" y="5" width="300" height="1" fill="#444"/>
<rect x="679" y="5" width="2" height="230" fill="#555"/>
<rect x="380" y="234" width="300" height="1" fill="#444"/><rect x="380" y="235" width="300" height="1" fill="#bbb"/>
<rect x="381" y="158" width="4" height="1" fill="#333"/>
<rect x="677" y="158" width="2" height="1" fill="#333"/>
<rect x="381" y="81" width="4" height="1" fill="#333"/>
<rect x="677" y="81" width="2" height="1" fill="#333"/>
<rect x="479" y="229" width="1.2" height="5" fill="#222"/>
<rect x="479" y="6" width="1" height="2" fill="#444"/>
<rect x="579" y="229" width="1.2" height="5" fill="#222"/>
<rect x="579" y="6" width="1" height="2" fill="#444"/>
<text x="365.27" y="10.00" style="font-size:11.5px;letter-spacing:-0.6px">1.5</text>
<text x="371.94" y="86.00" style="font-size:11.5px;letter-spacing:-0.6px">1</text>
<text x="365.57" y="163.00" style="font-size:11.5px;letter-spacing:-0.6px">0.5</text>
<text x="372.69" y="239.00" style="font-size:11.5px;letter-spacing:-0.6px">0</text>
<text x="379.86" y="246.50" style="font-size:11.5px;">0</text>
<text x="479.19" y="246.50" style="font-size:11.5px;">1</text>
<text x="578.79" y="246.50" style="font-size:11.5px;">2</text>
<text x="678.45" y="246.50" style="font-size:11.5px;">3</text>
<text x="532.83" y="255.80" style="font-size:19.5px;font-style:italic;">y</text>
<text transform="translate(363.63,147.02) rotate(-90)" style="font-size:20.2px;font-style:italic">Velocity</text>
<text x="443.19" y="30.00" style="font-size:20px;font-style:italic;">g</text><text x="454.32" y="30.00" style="font-size:20px;">(</text><text x="459.32" y="30.00" style="font-size:20px;font-style:italic;">t</text><text x="468.06" y="30.00" style="font-size:20px;">)</text><text x="476.70" y="32.60" style="font-size:20px;">=</text><text x="494.31" y="30.00" style="font-size:20px;font-style:italic;">H</text><text x="509.92" y="30.00" style="font-size:20px;">(</text><text x="515.52" y="30.00" style="font-size:20px;font-style:italic;">t</text><text x="523.16" y="30.00" style="font-size:20px;">)</text><text x="528.82" y="30.00" style="font-size:20px;font-style:italic;">t</text><text transform="translate(536.80,22.40) scale(1.3,0.9)" style="font-size:11px;font-style:italic">α</text>
<line x1="560.0" y1="20.00" x2="581.0" y2="20.00" stroke="#ff0000" stroke-width="1"/><rect x="560.00" y="17.00" width="6" height="6" fill="#ff0000"/><rect x="567.50" y="17.00" width="6" height="6" fill="#ff0000"/><rect x="575.00" y="17.00" width="6" height="6" fill="#ff0000"/><line x1="649.0" y1="19.50" x2="670.0" y2="19.50" stroke="#a0582a" stroke-width="1"/><rect x="649.25" y="16.75" width="5.5" height="5.5" fill="none" stroke="#a0582a" stroke-width="0.95"/><rect x="656.75" y="16.75" width="5.5" height="5.5" fill="none" stroke="#a0582a" stroke-width="0.95"/><rect x="664.25" y="16.75" width="5.5" height="5.5" fill="none" stroke="#a0582a" stroke-width="0.95"/><line x1="560.0" y1="41.30" x2="581.0" y2="41.30" stroke="#00804a" stroke-width="1"/><polygon points="563.00,38.20 566.10,41.30 563.00,44.40 559.90,41.30" fill="#00804a"/><polygon points="570.50,38.20 573.60,41.30 570.50,44.40 567.40,41.30" fill="#00804a"/><polygon points="578.00,38.20 581.10,41.30 578.00,44.40 574.90,41.30" fill="#00804a"/><line x1="649.0" y1="41.40" x2="670.0" y2="41.40" stroke="#000070" stroke-width="1"/><polygon points="652.00,38.30 654.80,41.40 652.00,44.50 649.20,41.40" fill="none" stroke="#000070" stroke-width="0.85"/><polygon points="659.50,38.30 662.30,41.40 659.50,44.50 656.70,41.40" fill="none" stroke="#000070" stroke-width="0.85"/><polygon points="667.00,38.30 669.80,41.40 667.00,44.50 664.20,41.40" fill="none" stroke="#000070" stroke-width="0.85"/><line x1="560.0" y1="60.00" x2="581.0" y2="60.00" stroke="#8000ff" stroke-width="1"/><circle cx="563.00" cy="60.00" r="3.0" fill="#8000ff"/><circle cx="570.50" cy="60.00" r="3.0" fill="#8000ff"/><circle cx="578.00" cy="60.00" r="3.0" fill="#8000ff"/><line x1="649.0" y1="60.00" x2="670.0" y2="60.00" stroke="#000000" stroke-width="1"/><circle cx="652.00" cy="60.00" r="2.8" fill="none" stroke="#000000" stroke-width="0.9"/><circle cx="659.50" cy="60.00" r="2.8" fill="none" stroke="#000000" stroke-width="0.9"/><circle cx="667.00" cy="60.00" r="2.8" fill="none" stroke="#000000" stroke-width="0.9"/><line x1="560.0" y1="79.20" x2="581.0" y2="79.20" stroke="#800000" stroke-width="1"/><polygon points="563.00,75.80 566.40,82.00 559.60,82.00" fill="#800000"/><polygon points="570.50,75.80 573.90,82.00 567.10,82.00" fill="#800000"/><polygon points="578.00,75.80 581.40,82.00 574.60,82.00" fill="#800000"/><line x1="649.0" y1="79.70" x2="670.0" y2="79.70" stroke="#ff0000" stroke-width="1"/><polygon points="652.00,76.70 655.10,82.20 648.90,82.20" fill="none" stroke="#ff0000" stroke-width="0.9"/><polygon points="659.50,76.70 662.60,82.20 656.40,82.20" fill="none" stroke="#ff0000" stroke-width="0.9"/><polygon points="667.00,76.70 670.10,82.20 663.90,82.20" fill="none" stroke="#ff0000" stroke-width="0.9"/>
<text x="589.35" y="24.70" style="font-size:20px;font-style:italic;">N</text><text x="609.20" y="27.70" style="font-size:20px;">=</text><text x="623.00" y="26.80" style="font-size:20px;">−</text><text x="634.47" y="24.70" style="font-size:19px;">2</text><text x="589.35" y="47.80" style="font-size:20px;font-style:italic;">N</text><text x="609.20" y="50.80" style="font-size:20px;">=</text><text x="623.00" y="49.90" style="font-size:20px;">−</text><text x="634.93" y="47.80" style="font-size:19px;">1</text><text x="589.35" y="64.80" style="font-size:20px;font-style:italic;">N</text><text x="609.20" y="67.80" style="font-size:20px;">=</text><text x="622.83" y="64.80" style="font-size:19px;">1</text><text x="589.35" y="82.20" style="font-size:20px;font-style:italic;">N</text><text x="609.20" y="85.20" style="font-size:20px;">=</text><text x="623.67" y="82.20" style="font-size:19px;">2</text>
<line x1="571.30" y1="86.3" x2="571.30" y2="104.4" stroke="#222" stroke-width="1"/><polyline points="566.00,91.5 571.30,86.2 576.60,91.5" fill="none" stroke="#222" stroke-width="1"/>
<line x1="657.50" y1="88.9" x2="657.50" y2="107.0" stroke="#222" stroke-width="1"/><polyline points="652.20,94.1 657.50,88.8 662.80,94.1" fill="none" stroke="#222" stroke-width="1"/>
<text transform="translate(552.40,119.60) skewX(-14)" style="font-size:21px;font-style:italic">ε</text><text x="565.90" y="122.20" style="font-size:20px;">=</text><text x="582.18" y="119.60" style="font-size:19px;">0</text>
<text transform="translate(638.80,119.10) skewX(-14)" style="font-size:21px;font-style:italic">ε</text><text x="652.30" y="121.70" style="font-size:20px;">=</text><text x="666.33" y="119.10" style="font-size:19px;">1</text>
</svg>
</body></html>
